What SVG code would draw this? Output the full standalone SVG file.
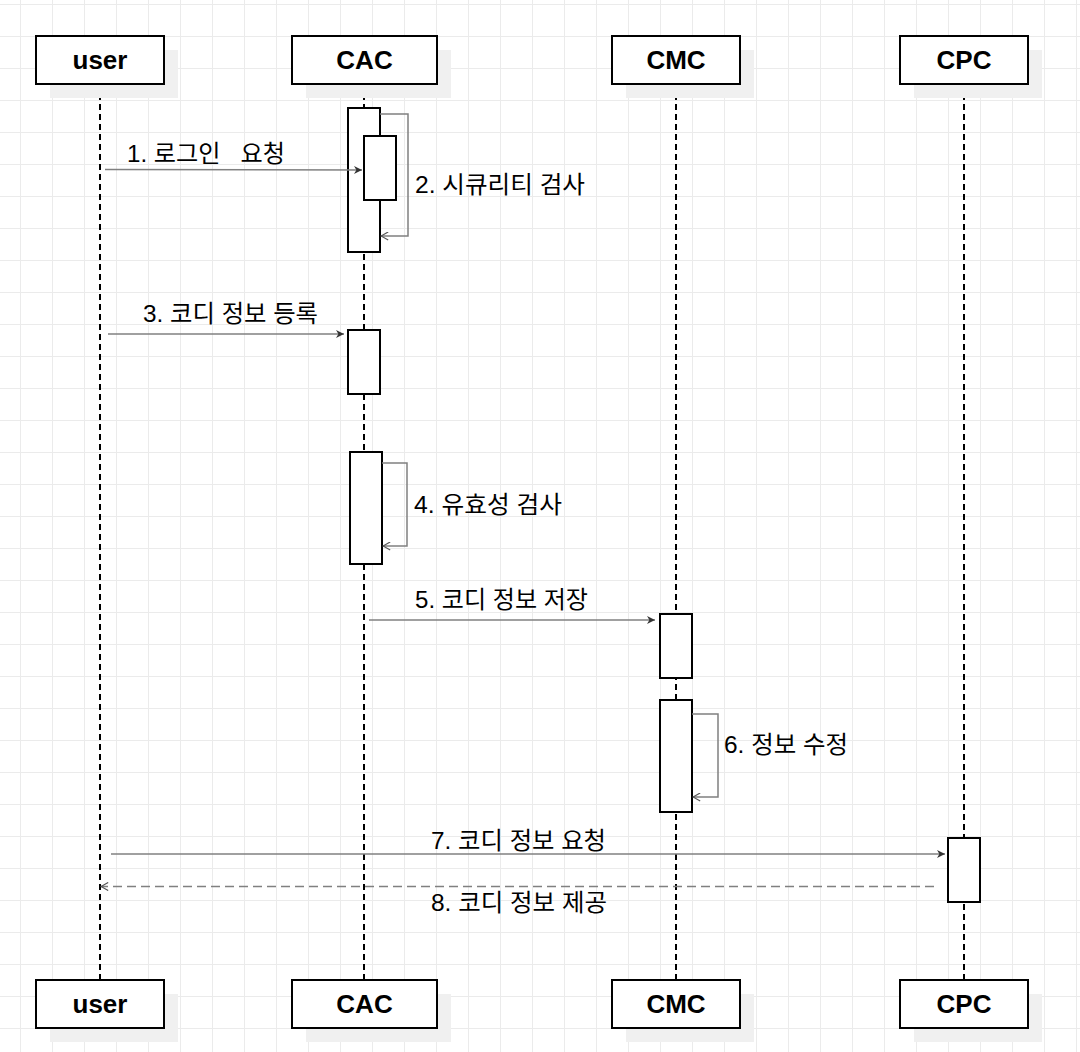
<svg xmlns="http://www.w3.org/2000/svg" width="1080" height="1052" viewBox="0 0 1080 1052">
<style>
.hdr{fill:#fff;stroke:#000;stroke-width:2}
.shadow{fill:#f0f0f0;stroke:none}
.hdrtxt{font-family:"Liberation Sans",Arial,sans-serif;font-weight:bold;font-size:26px;text-anchor:middle;fill:#000}
.life{stroke:#000;stroke-width:2;stroke-dasharray:6 4;fill:none}
.act{fill:#fff;stroke:#000;stroke-width:2}
.msg{stroke:#808080;stroke-width:1.5;fill:none}
.ret{stroke:#808080;stroke-width:1.5;fill:none;stroke-dasharray:9 5}
.lbl{font-family:"Liberation Sans","Noto Sans CJK KR",Arial,sans-serif;font-size:24px;fill:#000;white-space:pre}
</style>
<defs>
<pattern id="grid" x="20" y="4" width="32" height="32" patternUnits="userSpaceOnUse">
<path d="M0 0.5 H32 M0.5 0 V32" stroke="#ebebeb" stroke-width="1" fill="none"/>
</pattern>
<marker id="block" viewBox="0 0 10 10" refX="10" refY="5" markerWidth="10" markerHeight="8" markerUnits="userSpaceOnUse" orient="auto">
<path d="M0 0 L10 5 L0 10 L3 5 Z" fill="#333"/>
</marker>
<marker id="open" viewBox="0 0 10 10" refX="9" refY="5" markerWidth="10" markerHeight="9" markerUnits="userSpaceOnUse" orient="auto">
<path d="M1 0.5 L9 5 L1 9.5" fill="none" stroke="#555" stroke-width="1.3"/>
</marker>
</defs>
<rect width="1080" height="1052" fill="#fff"/>
<rect width="1080" height="1052" fill="url(#grid)"/>

<g id="lifelines">
<line class="life" x1="100" y1="84" x2="100" y2="980"/>
<line class="life" x1="364" y1="84" x2="364" y2="980"/>
<line class="life" x1="676" y1="84" x2="676" y2="980"/>
<line class="life" x1="964" y1="84" x2="964" y2="980"/>
</g>

<g id="user">
<rect class="shadow" x="50" y="50" width="128" height="48"/>
<rect class="hdr" x="36" y="36" width="128" height="48"/>
<text class="hdrtxt" x="100" y="69">user</text>
</g>
<g id="cac">
<rect class="shadow" x="306" y="50" width="145" height="48"/>
<rect class="hdr" x="292" y="36" width="145" height="48"/>
<text class="hdrtxt" x="364.5" y="69">CAC</text>
</g>
<g id="cmc">
<rect class="shadow" x="626" y="50" width="128" height="48"/>
<rect class="hdr" x="612" y="36" width="128" height="48"/>
<text class="hdrtxt" x="676" y="69">CMC</text>
</g>
<g id="cpc">
<rect class="shadow" x="914" y="50" width="128" height="48"/>
<rect class="hdr" x="900" y="36" width="128" height="48"/>
<text class="hdrtxt" x="964" y="69">CPC</text>
</g>
<g id="user-bottom">
<rect class="shadow" x="50" y="994" width="128" height="48"/>
<rect class="hdr" x="36" y="980" width="128" height="48"/>
<text class="hdrtxt" x="100" y="1013">user</text>
</g>
<g id="cac-bottom">
<rect class="shadow" x="306" y="994" width="145" height="48"/>
<rect class="hdr" x="292" y="980" width="145" height="48"/>
<text class="hdrtxt" x="364.5" y="1013">CAC</text>
</g>
<g id="cmc-bottom">
<rect class="shadow" x="626" y="994" width="128" height="48"/>
<rect class="hdr" x="612" y="980" width="128" height="48"/>
<text class="hdrtxt" x="676" y="1013">CMC</text>
</g>
<g id="cpc-bottom">
<rect class="shadow" x="914" y="994" width="128" height="48"/>
<rect class="hdr" x="900" y="980" width="128" height="48"/>
<text class="hdrtxt" x="964" y="1013">CPC</text>
</g>

<g id="act-cac-1"><rect class="act" x="348" y="108" width="32" height="144"/></g>
<g id="act-cac-1b"><rect class="act" x="364" y="136" width="32" height="64"/></g>
<g id="act-cac-2"><rect class="act" x="348" y="330" width="32" height="64"/></g>
<g id="act-cac-3"><rect class="act" x="350" y="452" width="32" height="112"/></g>
<g id="act-cmc-1"><rect class="act" x="660" y="614" width="32" height="64"/></g>
<g id="act-cmc-2"><rect class="act" x="660" y="700" width="32" height="112"/></g>
<g id="act-cpc-1"><rect class="act" x="948" y="838" width="32" height="64"/></g>

<g id="connectors">
<line class="msg" x1="105" y1="169.5" x2="362" y2="170" marker-end="url(#block)"/>
<path class="msg" d="M380 114 H408 V236 H381" marker-end="url(#open)"/>
<line class="msg" x1="108" y1="334" x2="344" y2="334" marker-end="url(#block)"/>
<path class="msg" d="M382 463 H407 V546 H383" marker-end="url(#open)"/>
<line class="msg" x1="369" y1="620" x2="655" y2="620" marker-end="url(#block)"/>
<path class="msg" d="M692 714 H718 V797 H693" marker-end="url(#open)"/>
<line class="msg" x1="111" y1="854" x2="945" y2="854" marker-end="url(#block)"/>
<line class="ret" x1="934" y1="886.5" x2="101" y2="886.5" marker-end="url(#open)"/>
</g>

<g id="labels">
<text class="lbl" x="127" y="162" textLength="158" lengthAdjust="spacingAndGlyphs">1. 로그인   요청</text>
<text class="lbl" x="415" y="193" textLength="170" lengthAdjust="spacingAndGlyphs">2. 시큐리티 검사</text>
<text class="lbl" x="143" y="322" textLength="175" lengthAdjust="spacingAndGlyphs">3. 코디 정보 등록</text>
<text class="lbl" x="414" y="513" textLength="148" lengthAdjust="spacingAndGlyphs">4. 유효성 검사</text>
<text class="lbl" x="415" y="608" textLength="173" lengthAdjust="spacingAndGlyphs">5. 코디 정보 저장</text>
<text class="lbl" x="724" y="753" textLength="124" lengthAdjust="spacingAndGlyphs">6. 정보 수정</text>
<text class="lbl" x="431" y="849" textLength="175" lengthAdjust="spacingAndGlyphs">7. 코디 정보 요청</text>
<text class="lbl" x="431" y="911" textLength="176" lengthAdjust="spacingAndGlyphs">8. 코디 정보 제공</text>
</g>
</svg>
